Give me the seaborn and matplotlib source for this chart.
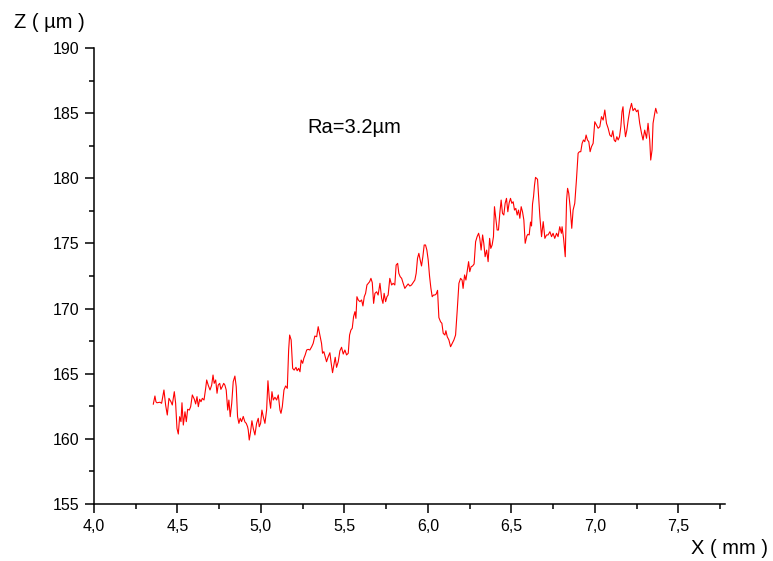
import matplotlib
matplotlib.use('Agg')
import matplotlib.pyplot as plt
import pandas as pd
import seaborn as sns
from matplotlib.ticker import MultipleLocator

# surface profile, X in mm and Z in micrometres
x_mm = [
    4.355, 4.365, 4.371, 4.377, 4.395, 4.405, 4.419, 4.429, 4.439, 4.449,
    4.461, 4.469, 4.481, 4.489, 4.497, 4.505, 4.513, 4.521, 4.527, 4.535,
    4.545, 4.553, 4.561, 4.571, 4.579, 4.589, 4.601, 4.609, 4.617, 4.625,
    4.633, 4.641, 4.649, 4.659, 4.669, 4.675, 4.684, 4.695, 4.705, 4.713,
    4.720, 4.729, 4.737, 4.744, 4.753, 4.760, 4.768, 4.777, 4.784, 4.792,
    4.801, 4.808, 4.816, 4.825, 4.834, 4.844, 4.852, 4.860, 4.868, 4.876,
    4.884, 4.894, 4.904, 4.912, 4.920, 4.924, 4.930, 4.938, 4.946, 4.954,
    4.964, 4.974, 4.984, 4.990, 4.998, 5.006, 5.014, 5.024, 5.034, 5.042,
    5.050, 5.058, 5.066, 5.074, 5.084, 5.094, 5.104, 5.114, 5.120, 5.128,
    5.138, 5.148, 5.158, 5.166, 5.172, 5.181, 5.190, 5.199, 5.210, 5.217,
    5.226, 5.234, 5.241, 5.250, 5.257, 5.265, 5.274, 5.283, 5.293, 5.304,
    5.313, 5.323, 5.334, 5.343, 5.353, 5.363, 5.369, 5.377, 5.385, 5.393,
    5.403, 5.413, 5.421, 5.429, 5.437, 5.445, 5.453, 5.463, 5.473, 5.483,
    5.493, 5.503, 5.513, 5.523, 5.531, 5.539, 5.547, 5.555, 5.563, 5.569,
    5.575, 5.583, 5.593, 5.603, 5.611, 5.619, 5.627, 5.635, 5.643, 5.651,
    5.659, 5.667, 5.675, 5.683, 5.693, 5.702, 5.713, 5.723, 5.731, 5.738,
    5.747, 5.755, 5.762, 5.772, 5.783, 5.792, 5.802, 5.810, 5.819, 5.826,
    5.834, 5.843, 5.852, 5.862, 5.872, 5.882, 5.892, 5.902, 5.912, 5.922,
    5.930, 5.938, 5.946, 5.954, 5.962, 5.970, 5.978, 5.986, 5.994, 6.002,
    6.010, 6.018, 6.026, 6.034, 6.042, 6.050, 6.058, 6.066, 6.076, 6.084,
    6.092, 6.102, 6.108, 6.116, 6.126, 6.136, 6.146, 6.156, 6.166, 6.176,
    6.186, 6.196, 6.205, 6.211, 6.220, 6.228, 6.235, 6.244, 6.251, 6.259,
    6.268, 6.277, 6.286, 6.295, 6.304, 6.311, 6.319, 6.328, 6.335, 6.343,
    6.352, 6.361, 6.370, 6.377, 6.385, 6.393, 6.399, 6.407, 6.415, 6.423,
    6.431, 6.439, 6.447, 6.455, 6.463, 6.471, 6.479, 6.487, 6.495, 6.503,
    6.511, 6.519, 6.527, 6.535, 6.543, 6.551, 6.559, 6.567, 6.575, 6.583,
    6.593, 6.599, 6.607, 6.615, 6.621, 6.627, 6.633, 6.639, 6.645, 6.657,
    6.665, 6.671, 6.681, 6.691, 6.701, 6.711, 6.720, 6.731, 6.741, 6.750,
    6.760, 6.771, 6.780, 6.790, 6.800, 6.804, 6.813, 6.823, 6.831, 6.837,
    6.844, 6.852, 6.862, 6.870, 6.880, 6.890, 6.900, 6.908, 6.916, 6.924,
    6.932, 6.940, 6.948, 6.956, 6.964, 6.972, 6.980, 6.990, 7.000, 7.010,
    7.020, 7.030, 7.040, 7.050, 7.060, 7.070, 7.080, 7.090, 7.100, 7.108,
    7.116, 7.124, 7.132, 7.140, 7.148, 7.156, 7.163, 7.169, 7.175, 7.184,
    7.192, 7.200, 7.210, 7.220, 7.229, 7.240, 7.250, 7.259, 7.269, 7.280,
    7.289, 7.299, 7.310, 7.319, 7.329, 7.335, 7.343, 7.349, 7.359, 7.365,
    7.373,
]
z_um = [
    162.65, 163.29, 162.85, 162.77, 162.81, 162.73, 163.75, 162.60, 161.83, 163.11,
    162.85, 162.60, 163.62, 162.73, 160.81, 160.37, 161.70, 161.32, 162.77, 161.06,
    162.08, 161.32, 162.27, 162.21, 162.47, 163.37, 163.04, 162.68, 163.24, 162.47,
    163.04, 162.85, 163.11, 162.98, 163.88, 164.52, 164.13, 163.75, 164.13, 164.90,
    164.26, 164.52, 163.50, 164.13, 164.26, 163.80, 164.00, 164.26, 164.13, 163.75,
    162.21, 162.98, 161.70, 162.73, 164.39, 164.82, 164.00, 161.70, 161.19, 161.58,
    161.32, 161.72, 161.30, 161.19, 160.93, 160.68, 159.91, 160.55, 161.39, 160.81,
    160.30, 161.19, 161.58, 160.93, 161.19, 162.21, 161.70, 161.19, 162.21, 164.46,
    163.11, 162.35, 163.62, 162.98, 163.19, 162.98, 163.37, 162.21, 161.96, 162.47,
    163.75, 164.06, 163.88, 166.82, 167.97, 167.59, 165.41, 165.28, 165.49, 165.23,
    165.41, 165.15, 166.05, 165.80, 166.18, 166.44, 166.82, 166.87, 166.82, 167.07,
    167.33, 167.89, 167.84, 168.61, 167.97, 167.33, 166.57, 166.69, 166.31, 165.92,
    166.31, 166.61, 165.80, 165.08, 165.67, 166.26, 165.49, 165.92, 166.75, 167.03,
    166.51, 166.82, 166.44, 166.57, 167.97, 168.35, 168.49, 169.38, 169.76, 169.25,
    170.91, 170.66, 170.53, 170.66, 170.20, 170.91, 171.17, 171.81, 171.94, 172.06,
    172.32, 171.99, 170.40, 171.17, 171.29, 171.04, 171.94, 170.79, 170.40, 171.17,
    170.53, 170.91, 171.04, 172.32, 171.81, 171.94, 171.81, 173.34, 173.47, 172.71,
    172.45, 172.32, 171.94, 171.55, 171.73, 171.89, 171.73, 171.81, 172.00, 172.19,
    172.71, 173.86, 174.24, 173.73, 173.27, 173.98, 174.88, 174.88, 174.49, 173.73,
    172.50, 171.58, 170.91, 171.04, 171.04, 171.12, 171.40, 169.31, 168.99, 168.87,
    168.10, 167.97, 168.30, 167.84, 167.59, 167.07, 167.33, 167.59, 167.97, 169.89,
    171.94, 172.32, 172.19, 171.55, 172.58, 172.19, 172.83, 173.60, 172.83, 173.21,
    173.27, 173.42, 175.13, 175.52, 175.78, 175.39, 174.49, 175.65, 175.01, 173.98,
    174.49, 173.60, 175.39, 174.62, 174.88, 175.52, 177.82, 176.93, 176.03, 176.03,
    177.31, 178.33, 177.31, 177.18, 178.08, 178.46, 177.43, 178.12, 178.46, 178.08,
    178.20, 177.56, 177.69, 177.18, 177.56, 176.93, 177.82, 177.43, 176.80, 175.01,
    175.57, 175.70, 175.65, 176.64, 176.34, 178.03, 178.59, 179.48, 180.07, 179.92,
    178.33, 177.05, 175.52, 176.67, 175.39, 175.65, 175.65, 175.90, 175.52, 175.78,
    175.39, 175.78, 175.52, 176.28, 175.78, 176.28, 175.39, 173.98, 178.33, 179.23,
    178.85, 177.82, 176.16, 177.56, 178.08, 179.87, 181.92, 182.04, 182.04, 182.68,
    182.94, 182.81, 183.32, 182.94, 182.81, 182.04, 182.42, 182.68, 184.34, 184.09,
    183.84, 183.96, 184.73, 184.47, 185.24, 184.22, 183.84, 183.32, 183.19, 183.65,
    182.94, 182.81, 183.19, 182.94, 183.19, 183.96, 185.11, 185.49, 184.22, 183.19,
    183.70, 184.47, 185.24, 185.75, 185.19, 185.37, 185.11, 185.24, 184.22, 183.45,
    182.94, 183.70, 183.07, 184.22, 182.94, 181.40, 182.17, 184.22, 184.99, 185.37,
    184.99,
]

x_ticks = [4.0, 4.5, 5.0, 5.5, 6.0, 6.5, 7.0, 7.5]
x_labels = ['4,0', '4,5', '5,0', '5,5', '6,0', '6,5', '7,0', '7,5']
z_ticks = [155, 160, 165, 170, 175, 180, 185, 190]

profile = pd.DataFrame({'X': x_mm, 'Z': z_um})

sns.set_style('ticks')
plt.rcParams['font.family'] = ['Liberation Sans', 'DejaVu Sans']
plt.rcParams['text.color'] = 'black'
plt.rcParams['xtick.color'] = 'black'
plt.rcParams['ytick.color'] = 'black'
plt.rcParams['axes.edgecolor'] = 'black'

fig = plt.figure(figsize=(7.73, 5.61), dpi=100)
ax = fig.add_axes([94 / 773, 57 / 561, 631 / 773, 456 / 561])

sns.lineplot(data=profile, x='X', y='Z', color='#ff0000', linewidth=0.8,
             estimator=None, sort=False, ax=ax)

ax.set_xlim(4.0, 7.78)
ax.set_ylim(155, 190)
ax.set_xticks(x_ticks)
ax.set_xticklabels(x_labels)
ax.set_yticks(z_ticks)
ax.xaxis.set_minor_locator(MultipleLocator(0.25))
ax.yaxis.set_minor_locator(MultipleLocator(2.5))
ax.tick_params(which='major', direction='out', length=6.5, width=1.1,
               color='black', labelcolor='black', labelsize=11.5, pad=4)
ax.tick_params(which='minor', direction='out', length=3.5, width=1.1, color='black')
ax.set_xlabel('')
ax.set_ylabel('')

for side in ['top', 'right']:
    ax.spines[side].set_visible(False)
for side in ['left', 'bottom']:
    ax.spines[side].set_linewidth(1.1)
    ax.spines[side].set_color('black')

ax.text(5.28, 183.9, 'Ra=3.2µm', fontsize=14.5, va='center', ha='left', color='black')
fig.text(14 / 773, 1 - 22 / 561, 'Z ( µm )', fontsize=14.5, va='center', ha='left', color='black')
fig.text(768 / 773, 1 - 548 / 561, 'X ( mm )', fontsize=14.5, va='center', ha='right', color='black')

fig.savefig('out.png', dpi=100)
